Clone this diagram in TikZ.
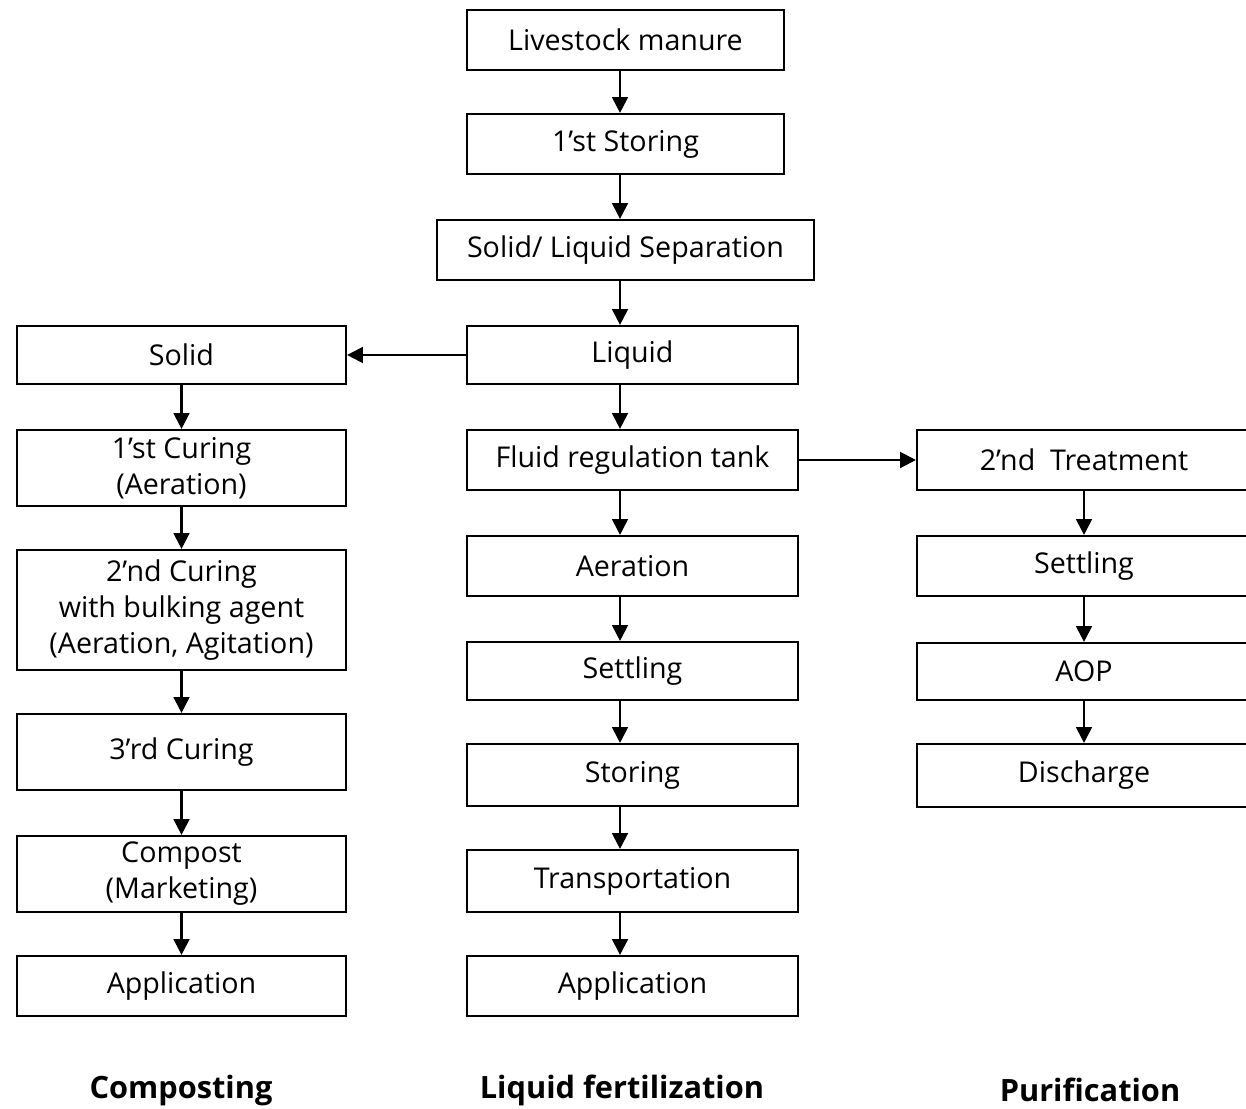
\documentclass[tikz,border=0pt]{standalone}
\usepackage{fontspec}
\setmainfont{Open Sans}
\usetikzlibrary{arrows.meta}

\begin{document}
\begin{tikzpicture}[x=0.02cm, y=-0.02cm,
    box/.style={draw, line width=1.25pt, inner sep=0pt, align=center,
        font=\fontsize{16.3}{20.5}\selectfont},
    midbox/.style={box, minimum width=6.62cm},
    leftbox/.style={box, minimum width=6.58cm},
    rightbox/.style={box, minimum width=6.68cm},
    flow/.style={line width=1.25pt, -{Triangle[length=9pt, width=9pt]}},
    title/.style={font=\fontsize{17.5}{21}\selectfont\bfseries}]
                \useasboundingbox (0,0) rectangle (1246,1108);
                \coordinate (mc) at (620,0);
                % middle column
                \node[box, minimum width=6.34cm, minimum height=1.2cm] (manure) at (625.5,40) {Livestock manure};
                \node[box, minimum width=6.34cm, minimum height=1.2cm] (store1) at (625.5,144) {1'st Storing};
                \node[box, minimum width=7.54cm, minimum height=1.2cm] (separ) at (625.5,250) {Solid/ Liquid Separation};
                \node[midbox, minimum height=1.16cm] (liquid) at (632.5,355) {Liquid};
                \node[midbox, minimum height=1.2cm] (fluid) at (632.5,460) {Fluid regulation tank};
                \node[midbox, minimum height=1.2cm] (aer) at (632.5,566) {Aeration};
                \node[midbox, minimum height=1.16cm] (settle) at (632.5,671) {Settling};
                \node[midbox, minimum height=1.24cm] (store2) at (632.5,775) {Storing};
                \node[midbox, minimum height=1.24cm] (trans) at (632.5,881) {Transportation};
                \node[midbox, minimum height=1.2cm] (appmid) at (632.5,986) {Application};
                % left column
                \node[leftbox, minimum height=1.16cm] (solid) at (181.5,355) {Solid};
                \node[leftbox, minimum height=1.52cm] (cure1) at (181.5,468) {1'st Curing\\(Aeration)};
                \node[leftbox, minimum height=2.4cm] (cure2) at (181.5,610) {2'nd Curing\\with bulking agent\\(Aeration, Agitation)};
                \node[leftbox, minimum height=1.52cm] (cure3) at (181.5,752) {3'rd Curing};
                \node[leftbox, minimum height=1.52cm] (compost) at (181.5,874) {Compost\\(Marketing)};
                \node[leftbox, minimum height=1.2cm] (appleft) at (181.5,986) {Application};
                % right column
                \node[rightbox, minimum height=1.2cm] (treat2) at (1084,460) {2'nd~~Treatment};
                \node[rightbox, minimum height=1.2cm] (settleR) at (1084,566) {Settling};
                \node[rightbox, minimum height=1.14cm] (aop) at (1084,671.5) {AOP};
                \node[rightbox, minimum height=1.26cm] (disch) at (1084,775.5) {Discharge};
                % arrows
                \draw[flow] (manure.south -| mc) -- (store1.north -| mc);
                \draw[flow] (store1.south -| mc) -- (separ.north -| mc);
                \draw[flow] (separ.south -| mc) -- (liquid.north -| mc);
                \draw[flow] (liquid.south -| mc) -- (fluid.north -| mc);
                \draw[flow] (fluid.south -| mc) -- (aer.north -| mc);
                \draw[flow] (aer.south -| mc) -- (settle.north -| mc);
                \draw[flow] (settle.south -| mc) -- (store2.north -| mc);
                \draw[flow] (store2.south -| mc) -- (trans.north -| mc);
                \draw[flow] (trans.south -| mc) -- (appmid.north -| mc);
                \draw[flow] (liquid.west) -- (solid.east);
                \draw[flow] (fluid.east) -- (treat2.west);
                \draw[flow] (solid) -- (cure1);
                \draw[flow] (cure1) -- (cure2);
                \draw[flow] (cure2) -- (cure3);
                \draw[flow] (cure3) -- (compost);
                \draw[flow] (compost) -- (appleft);
                \draw[flow] (treat2) -- (settleR);
                \draw[flow] (settleR) -- (aop);
                \draw[flow] (aop) -- (disch);
                % titles
                \node[title] (tcomp) at (181,1090) {Composting};
                \node[title] (tliq) at (622,1090) {Liquid fertilization};
                \node[title] (tpur) at (1090,1090) {Purification};
            \end{tikzpicture}
\end{document}
